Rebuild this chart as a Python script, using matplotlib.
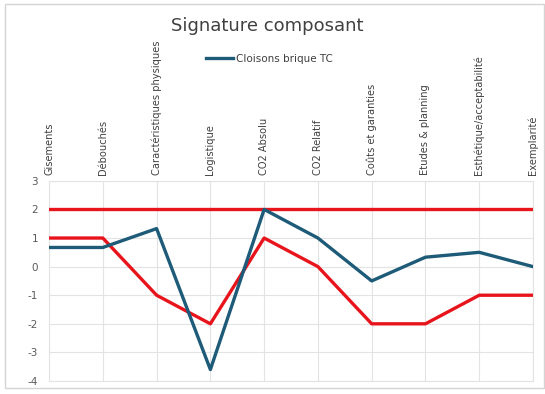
import matplotlib
matplotlib.use("Agg")
import matplotlib.pyplot as plt
from matplotlib.patches import Rectangle

plt.rcParams["axes.unicode_minus"] = False

categories = ["Gisements", "Débouchés", "Caractéristiques physiques", "Logistique",
              "CO2 Absolu", "CO2 Relatif", "Coûts et garanties", "Etudes & planning",
              "Esthétique/acceptabilité", "Exemplarité"]
cloisons = [0.67, 0.67, 1.33, -3.6, 2.0, 1.0, -0.5, 0.33, 0.5, 0.0]
reference_low = [1, 1, -1, -2, 1, 0, -2, -2, -1, -1]
reference_high = [2, 2, 2, 2, 2, 2, 2, 2, 2, 2]
y_ticks = [3, 2, 1, 0, -1, -2, -3, -4]

blue = "#1d5b78"
red = "#e8141c"

fig = plt.figure(figsize=(5.45, 3.94), dpi=100)
fig.patches.append(Rectangle((0.009, 0.015), 0.99, 0.975, transform=fig.transFigure,
                             fill=False, edgecolor="#d4d4d4", linewidth=1.0))

ax = fig.add_axes([0.09, 0.033, 0.888, 0.508])
x = list(range(len(categories)))

ax.plot(x, reference_high, color=red, linewidth=2.4, zorder=3)
ax.plot(x, reference_low, color=red, linewidth=2.4, zorder=3)
line_blue, = ax.plot(x, cloisons, color=blue, linewidth=2.4, zorder=4,
                     label="Cloisons brique TC")

ax.set_xlim(0, len(categories) - 1)
ax.set_ylim(-4, 3)
ax.set_yticks(y_ticks)
ax.set_xticks(x)
ax.set_xticklabels(categories, rotation=90, fontsize=7.1, color="#404040")
ax.xaxis.tick_top()
ax.tick_params(axis="x", length=0, pad=4)
ax.tick_params(axis="y", length=0, pad=8, labelsize=7.5, labelcolor="#595959")
ax.grid(True, color="#e3e3e3", linewidth=0.8)
ax.set_axisbelow(True)
for s in ax.spines.values():
    s.set_color("#e3e3e3")
    s.set_linewidth(0.8)

fig.text(0.49, 0.935, "Signature composant", ha="center", va="center",
         fontsize=13, color="#404040")
fig.legend(handles=[line_blue], loc="center", bbox_to_anchor=(0.495, 0.85),
           frameon=False, fontsize=7.5, handlelength=2.6, handletextpad=0.3,
           labelcolor="#404040")

fig.savefig("out.png", dpi=100)
